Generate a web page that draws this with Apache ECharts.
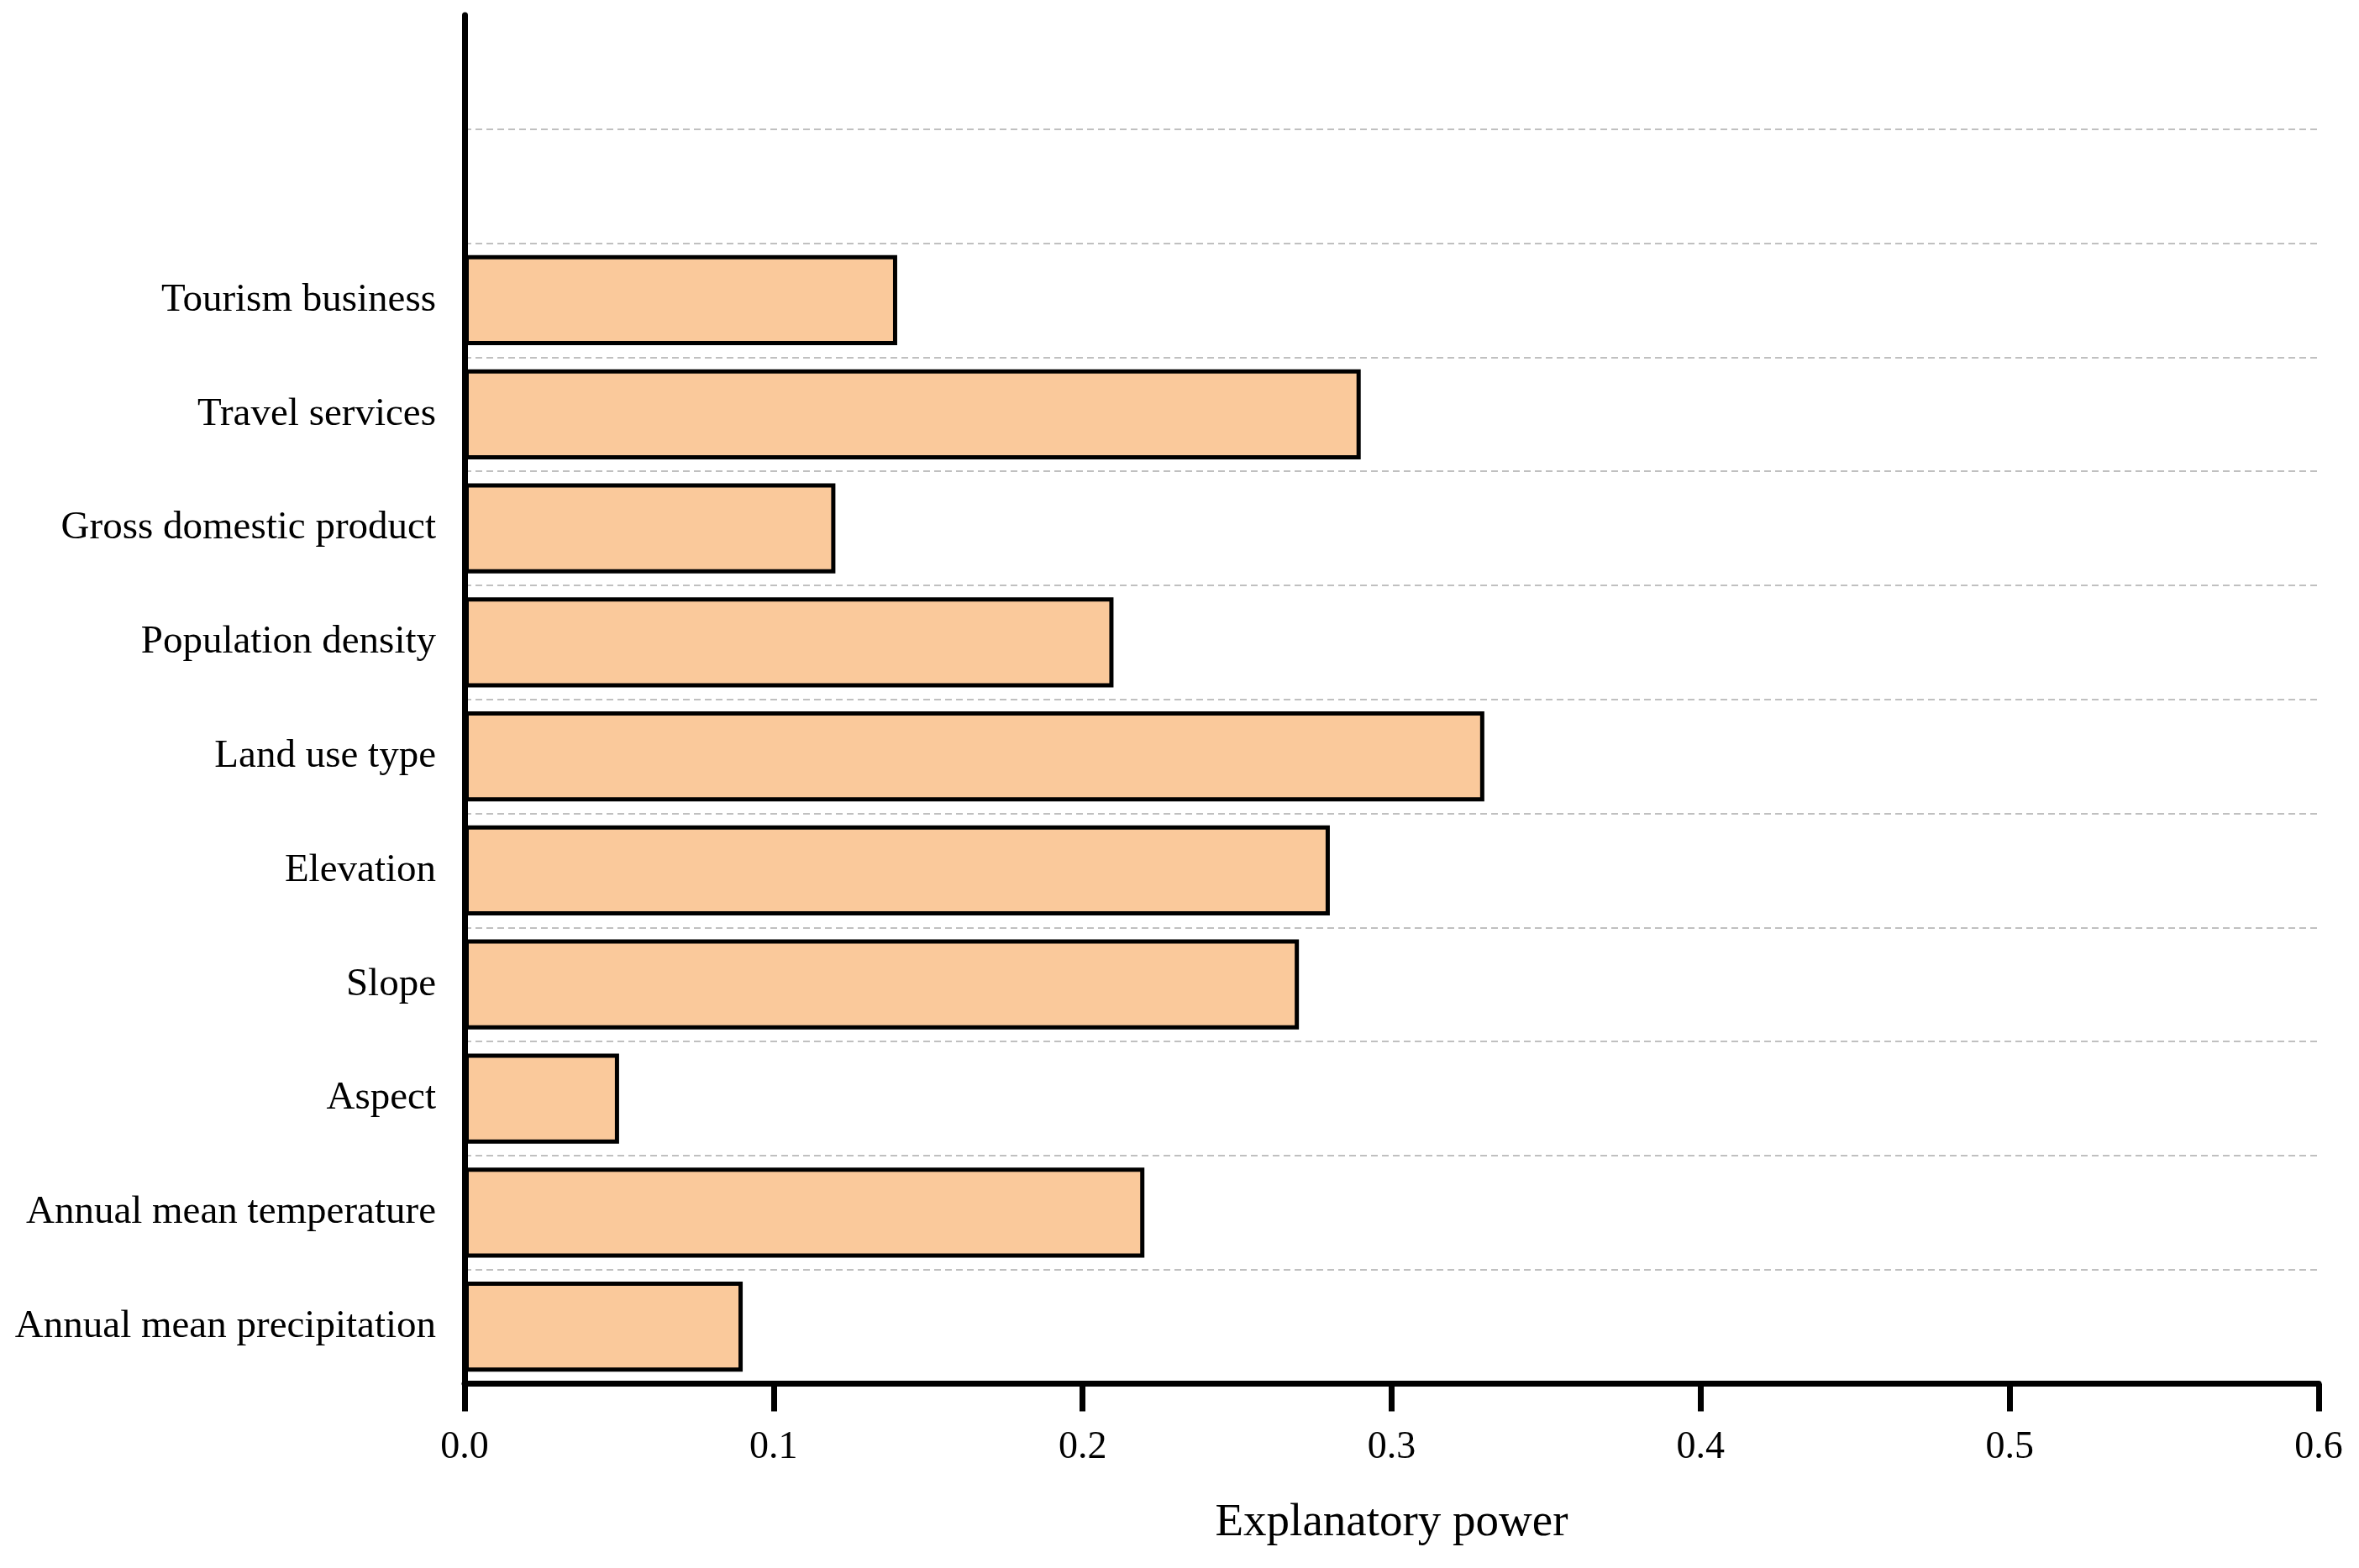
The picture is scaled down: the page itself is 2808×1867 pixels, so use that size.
<!DOCTYPE html>
<html>
<head>
<meta charset="utf-8">
<script src="https://cdn.jsdelivr.net/npm/echarts@6/dist/echarts.min.js"></script>
<style>
html,body{margin:0;padding:0;background:#fff;}
#chart{width:2808px;height:1867px;}
</style>
</head>
<body>
<div id="chart"></div>
<script>
// Categories listed top to bottom as in the figure
const categories = [
  'Tourism business',
  'Travel services',
  'Gross domestic product',
  'Population density',
  'Land use type',
  'Elevation',
  'Slope',
  'Aspect',
  'Annual mean temperature',
  'Annual mean precipitation'
];
const values = [0.14, 0.29, 0.12, 0.21, 0.33, 0.28, 0.27, 0.05, 0.22, 0.09];
const xTicks = [0.0, 0.1, 0.2, 0.3, 0.4, 0.5, 0.6];
const emptySlots = ['', ' '];
const axisTitle = 'Explanatory power';

const FONT = '"Liberation Serif", "Times New Roman", serif';
const yData = categories.slice().reverse().concat(emptySlots);
const seriesData = values.slice().reverse();

const chart = echarts.init(document.getElementById('chart'), null, {renderer: 'canvas'});
chart.setOption({
  backgroundColor: '#ffffff',
  animation: false,
  grid: {left: 553, right: 48, top: 18, bottom: 219.5, containLabel: false},
  xAxis: {
    type: 'value',
    min: xTicks[0],
    max: xTicks[xTicks.length - 1],
    interval: 0.1,
    name: axisTitle,
    nameLocation: 'middle',
    nameGap: 139,
    nameTextStyle: {fontFamily: FONT, fontSize: 55, color: '#000'},
    axisLine: {show: true, lineStyle: {color: '#000', width: 7}},
    axisTick: {show: true, inside: false, length: 33, lineStyle: {color: '#000', width: 7}},
    axisLabel: {
      fontFamily: FONT, fontSize: 46, color: '#000', margin: 53,
      formatter: v => v.toFixed(1)
    },
    splitLine: {show: false}
  },
  yAxis: {
    type: 'category',
    data: yData,
    boundaryGap: true,
    axisLine: {show: true, onZero: false, lineStyle: {color: '#000', width: 7}},
    axisTick: {show: false},
    axisLabel: {fontFamily: FONT, fontSize: 47, color: '#000', margin: 34, interval: 0, padding: [10, 0, 0, 0]},
    splitLine: {
      show: true,
      showMinLine: false,
      showMaxLine: false,
      interval: 0,
      lineStyle: {color: '#c0c0c0', width: 2, type: [8, 5]}
    }
  },
  series: [{
    type: 'bar',
    data: seriesData,
    barCategoryGap: '21%',
    itemStyle: {color: '#FAC99B', borderColor: '#000', borderWidth: 5},
    z: 3
  }]
});
</script>
</body>
</html>
